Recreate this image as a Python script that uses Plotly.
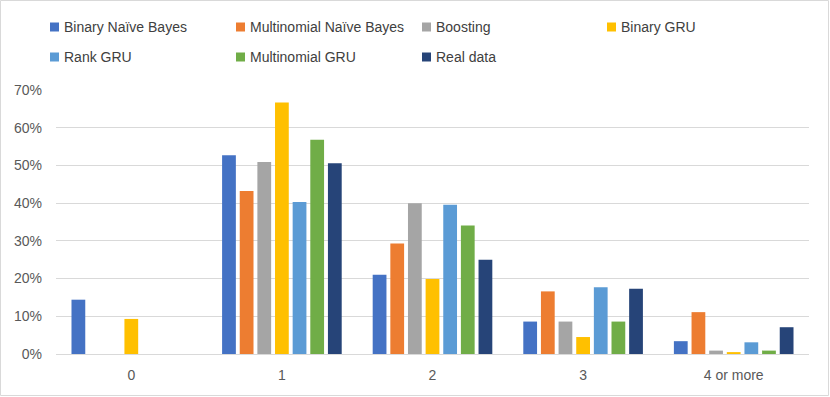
import plotly.graph_objects as go

categories = ["0", "1", "2", "3", "4 or more"]
series_names = ["Binary Naïve Bayes", "Multinomial Naïve Bayes", "Boosting", "Binary GRU",
                "Rank GRU", "Multinomial GRU", "Real data"]
binary_nb = [0.144, 0.527, 0.210, 0.086, 0.034]
multinomial_nb = [0.0, 0.432, 0.293, 0.166, 0.111]
boosting = [0.0, 0.509, 0.400, 0.086, 0.009]
binary_gru = [0.093, 0.667, 0.199, 0.045, 0.005]
rank_gru = [0.0, 0.403, 0.396, 0.177, 0.031]
multinomial_gru = [0.0, 0.568, 0.341, 0.086, 0.009]
real_data = [0.0, 0.506, 0.250, 0.173, 0.071]
series_values = [binary_nb, multinomial_nb, boosting, binary_gru, rank_gru, multinomial_gru, real_data]
colors = ["#4472C4", "#ED7D31", "#A5A5A5", "#FFC000", "#5B9BD5", "#70AD47", "#264478"]
y_ticks = [0, 0.1, 0.2, 0.3, 0.4, 0.5, 0.6, 0.7]

W, H = 830, 397
ML, MR, MT, MB = 56, 21, 90, 43
PW, PH = W - ML - MR, H - MT - MB


def px_x(px):
    return (px - ML) / PW


def px_y(py):
    return (H - MB - py) / PH


FONT = "Liberation Sans, Arial, sans-serif"
TXT = "#595959"

fig = go.Figure()
for name, vals, col in zip(series_names, series_values, colors):
    fig.add_trace(go.Bar(x=categories, y=vals, name=name, marker_color=col,
                         marker_line_width=0, showlegend=False))

shapes = []
annotations = []
# manual legend (two rows, fixed column pitch)
col_left = [50, 236, 422, 607]
row_center = [27, 57]
for i, (name, col) in enumerate(zip(series_names, colors)):
    r, c = divmod(i, 4)
    lx = col_left[c]
    cy = row_center[r]
    shapes.append(dict(type="rect", xref="paper", yref="paper",
                       xsizemode="pixel", ysizemode="pixel",
                       xanchor=px_x(lx), yanchor=px_y(cy),
                       x0=0, x1=9, y0=-4.5, y1=4.5,
                       fillcolor=col, line=dict(width=0)))
    annotations.append(dict(text=name, xref="paper", yref="paper",
                            x=px_x(lx + 12), y=px_y(cy), xanchor="left", yanchor="middle",
                            showarrow=False, font=dict(family=FONT, size=14, color="#404040")))

# chart border
shapes.append(dict(type="rect", xref="paper", yref="paper",
                   x0=px_x(0.5), x1=px_x(828.5), y0=px_y(395.5), y1=px_y(0.5),
                   line=dict(color="#D9D9D9", width=1), fillcolor="rgba(0,0,0,0)", layer="below"))

fig.update_layout(
    width=W, height=H,
    margin=dict(l=ML, r=MR, t=MT, b=MB),
    barmode="group", bargap=0.18, bargroupgap=0.22,
    plot_bgcolor="white", paper_bgcolor="white",
    font=dict(family=FONT, size=14, color=TXT),
    shapes=shapes, annotations=annotations,
    hovermode=False,
    xaxis=dict(showgrid=False, showline=True, linecolor="#D9D9D9", linewidth=1,
               ticks="", tickfont=dict(size=14, color=TXT), ticklabelstandoff=8),
    yaxis=dict(range=[0, 0.7], tickvals=y_ticks, tickformat=".0%",
               showgrid=True, gridcolor="#D9D9D9", gridwidth=1,
               zeroline=True, zerolinecolor="#D9D9D9", zerolinewidth=1,
               showline=False, ticks="", tickfont=dict(size=14, color=TXT),
               ticklabelstandoff=13),
)

fig.write_html("out.html", config={"displayModeBar": False, "staticPlot": True},
               post_script="document.body.style.margin='0';document.body.style.overflow='hidden';")
